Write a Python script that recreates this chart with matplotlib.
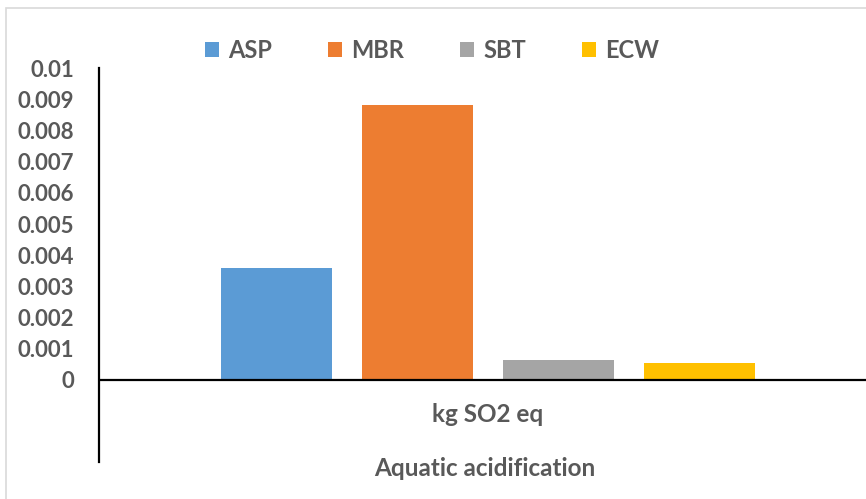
import matplotlib
matplotlib.use('Agg')
import matplotlib.pyplot as plt
from matplotlib.patches import Rectangle

# kg SO2 eq per scenario
series = ['ASP', 'MBR', 'SBT', 'ECW']
values = [0.0036, 0.0088, 0.00065, 0.00053]
colors = ['#5B9BD5', '#ED7D31', '#A5A5A5', '#FFC000']
category = 'kg SO2 eq'
title = 'Aquatic acidification'

plt.rcParams['font.family'] = ['Lato', 'DejaVu Sans']
plt.rcParams['font.weight'] = 'bold'
txt = '#595959'

W, H = 866, 499
fig = plt.figure(figsize=(W / 100, H / 100), dpi=100)

# chart area border (only left and top are inside the frame)
fig.add_artist(Rectangle((6 / W, -0.1), 1.2, 1 - 8 / H + 0.1, transform=fig.transFigure,
                         fill=False, edgecolor='#d9d9d9', linewidth=1.2))

unit = 0.001 / 31.2  # data per pixel
y_top, y_zero, y_bot = 68, 380, 462
ax = fig.add_axes([99 / W, 1 - y_bot / H, 777 / W, (y_bot - y_top) / H])
ax.set_ylim(-(y_bot - y_zero) * unit, 0.01)
ax.set_xlim(-0.5, 0.5)

bw = 111 / 777
step = 141 / 777
for i, (s, v, c) in enumerate(zip(series, values, colors)):
    ax.bar((i - 1.5) * step, v, width=bw, color=c, label=s, zorder=2)

ax.axhline(0, color='black', linewidth=1.6, zorder=3)
for side in ['top', 'right', 'bottom']:
    ax.spines[side].set_visible(False)
ax.spines['left'].set_linewidth(1.6)
ax.spines['left'].set_color('black')

ticks = [i / 1000 for i in range(11)]
ax.set_yticks(ticks)
ax.set_yticklabels(['0'] + ['%g' % t for t in ticks[1:]])
ax.tick_params(axis='y', length=0, pad=18, labelsize=16, labelcolor=txt)
ax.set_xticks([])

ax.text(0, -(415 - y_zero) * unit, category, ha='center', va='center',
        fontsize=17.5, color=txt)
fig.text(485 / W, 1 - 468 / H, title, ha='center', va='center',
         fontsize=17.5, color=txt, fontweight='bold')

leg = fig.legend(loc='center', bbox_to_anchor=(432 / W, 1 - 50 / H), ncol=4,
                 frameon=False, fontsize=17, handlelength=0.6, handleheight=0.6,
                 handletextpad=0.4, columnspacing=2.35)
for t in leg.get_texts():
    t.set_color(txt)

fig.savefig('out.png', dpi=100)
